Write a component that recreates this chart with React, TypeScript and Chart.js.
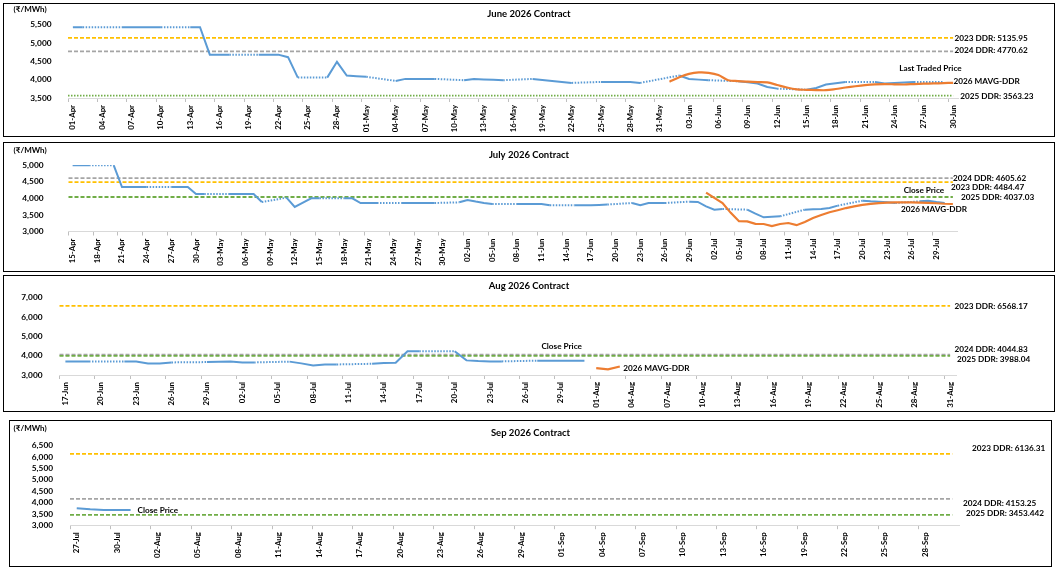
import React, { useEffect, useRef } from "react";
import { Chart, registerables } from "chart.js";

Chart.register(...registerables);

const FONT = "Lato, 'Noto Sans', sans-serif";
const BLUE = "#5B9BD5";
const ORANGE = "#ED7D31";
const DDR_COLOR: Record<string, string> = { "2023": "#FFC000", "2024": "#A5A5A5", "2025": "#70AD47" };

const MONTHS = ["Jan", "Feb", "Mar", "Apr", "May", "Jun", "Jul", "Aug", "Sep", "Oct", "Nov", "Dec"];

// every calendar day between two dates, as "01-Apr"
const dayLabels = (from: string, to: string) => {
  const out: string[] = [];
  const d = new Date(from + "T00:00:00Z");
  const end = new Date(to + "T00:00:00Z");
  while (d <= end) {
    out.push(String(d.getUTCDate()).padStart(2, "0") + "-" + MONTHS[d.getUTCMonth()]);
    d.setUTCDate(d.getUTCDate() + 1);
  }
  return out;
};

type Pt = [string, number];

// ---------------- June 2026 contract ----------------
const juneDays = dayLabels("2026-04-01", "2026-06-30");
const juneLtp: Pt[] = [
  ["01-Apr", 5425], ["02-Apr", 5425], ["06-Apr", 5425], ["07-Apr", 5425], ["08-Apr", 5425],
  ["09-Apr", 5425], ["10-Apr", 5425], ["13-Apr", 5425], ["14-Apr", 5425], ["15-Apr", 4680],
  ["16-Apr", 4680], ["17-Apr", 4680], ["20-Apr", 4680], ["21-Apr", 4680], ["22-Apr", 4680],
  ["23-Apr", 4611], ["24-Apr", 4055], ["27-Apr", 4055], ["28-Apr", 4485], ["29-Apr", 4110],
  ["30-Apr", 4095], ["01-May", 4077], ["04-May", 3965], ["05-May", 4020], ["06-May", 4020],
  ["07-May", 4020], ["08-May", 4020], ["11-May", 3984], ["12-May", 4020], ["13-May", 4005],
  ["14-May", 3995], ["15-May", 3984], ["18-May", 4020], ["19-May", 3990], ["20-May", 3960],
  ["21-May", 3935], ["22-May", 3911], ["25-May", 3938], ["26-May", 3935], ["27-May", 3935],
  ["28-May", 3935], ["29-May", 3911], ["02-Jun", 4113], ["03-Jun", 4020], ["04-Jun", 4000],
  ["05-Jun", 3984], ["08-Jun", 3957], ["09-Jun", 3930], ["10-Jun", 3892], ["11-Jun", 3800],
  ["12-Jun", 3755], ["15-Jun", 3727], ["16-Jun", 3773], ["17-Jun", 3865], ["18-Jun", 3900],
  ["19-Jun", 3938], ["22-Jun", 3938], ["23-Jun", 3892], ["24-Jun", 3910], ["25-Jun", 3925],
  ["26-Jun", 3938], ["29-Jun", 3938],
];
const juneMavg: Pt[] = [
  ["01-Jun", 3945], ["02-Jun", 4065], ["03-Jun", 4155], ["04-Jun", 4195], ["05-Jun", 4185],
  ["06-Jun", 4125], ["07-Jun", 3985], ["08-Jun", 3960], ["09-Jun", 3945], ["10-Jun", 3933],
  ["11-Jun", 3923], ["12-Jun", 3855], ["13-Jun", 3785], ["14-Jun", 3735], ["15-Jun", 3723],
  ["16-Jun", 3715], ["17-Jun", 3712], ["18-Jun", 3745], ["19-Jun", 3785], ["20-Jun", 3820],
  ["21-Jun", 3850], ["22-Jun", 3870], ["23-Jun", 3877], ["24-Jun", 3873], ["25-Jun", 3868],
  ["26-Jun", 3880], ["27-Jun", 3890], ["28-Jun", 3896], ["29-Jun", 3905], ["30-Jun", 3914],
];
const juneDdrYears = ["2023", "2024", "2025"];
const juneDdrValues = [5135.95, 4770.62, 3563.23];

// ---------------- July 2026 contract ----------------
const julyDays = dayLabels("2026-04-15", "2026-07-31");
const julyClose: Pt[] = [
  ["15-Apr", 4990], ["16-Apr", 4990], ["17-Apr", 4990], ["20-Apr", 4990], ["21-Apr", 4337],
  ["22-Apr", 4337], ["23-Apr", 4337], ["24-Apr", 4337], ["27-Apr", 4337], ["28-Apr", 4337],
  ["29-Apr", 4337], ["30-Apr", 4127], ["01-May", 4127], ["04-May", 4127], ["05-May", 4127],
  ["06-May", 4127], ["07-May", 4127], ["08-May", 3887], ["11-May", 4017], ["12-May", 3737],
  ["13-May", 3870], ["14-May", 3997], ["15-May", 3997], ["18-May", 3997], ["19-May", 3997],
  ["20-May", 3857], ["21-May", 3857], ["22-May", 3857], ["25-May", 3857], ["26-May", 3857],
  ["27-May", 3857], ["28-May", 3857], ["29-May", 3857], ["01-Jun", 3877], ["02-Jun", 3947],
  ["03-Jun", 3900], ["04-Jun", 3860], ["05-Jun", 3827], ["08-Jun", 3827], ["09-Jun", 3827],
  ["10-Jun", 3827], ["11-Jun", 3827], ["12-Jun", 3787], ["15-Jun", 3787], ["16-Jun", 3787],
  ["17-Jun", 3790], ["18-Jun", 3800], ["19-Jun", 3810], ["22-Jun", 3857], ["23-Jun", 3787],
  ["24-Jun", 3857], ["25-Jun", 3857], ["26-Jun", 3857], ["29-Jun", 3897], ["30-Jun", 3890],
  ["01-Jul", 3757], ["02-Jul", 3657], ["03-Jul", 3677], ["06-Jul", 3657], ["07-Jul", 3537],
  ["08-Jul", 3427], ["09-Jul", 3447], ["10-Jul", 3457], ["13-Jul", 3657], ["14-Jul", 3667],
  ["15-Jul", 3677], ["16-Jul", 3707], ["17-Jul", 3777], ["20-Jul", 3927], ["21-Jul", 3907],
  ["22-Jul", 3897], ["23-Jul", 3877], ["24-Jul", 3857], ["27-Jul", 3907], ["28-Jul", 3927],
  ["29-Jul", 3887], ["30-Jul", 3857],
];
const julyMavg: Pt[] = [
  ["01-Jul", 4170], ["02-Jul", 4010], ["03-Jul", 3857], ["04-Jul", 3560], ["05-Jul", 3310],
  ["06-Jul", 3305], ["07-Jul", 3230], ["08-Jul", 3225], ["09-Jul", 3160], ["10-Jul", 3225],
  ["11-Jul", 3255], ["12-Jul", 3190], ["13-Jul", 3285], ["14-Jul", 3405], ["15-Jul", 3495],
  ["16-Jul", 3580], ["17-Jul", 3640], ["18-Jul", 3705], ["19-Jul", 3755], ["20-Jul", 3800],
  ["21-Jul", 3830], ["22-Jul", 3855], ["23-Jul", 3868], ["24-Jul", 3877], ["25-Jul", 3880],
  ["26-Jul", 3877], ["27-Jul", 3870], ["28-Jul", 3860], ["29-Jul", 3850], ["30-Jul", 3835],
  ["31-Jul", 3827],
];
const julyDdrYears = ["2024", "2023", "2025"];
const julyDdrValues = [4605.62, 4484.47, 4037.03];

// ---------------- Aug 2026 contract ----------------
const augDays = dayLabels("2026-06-17", "2026-08-31");
const augClose: Pt[] = [
  ["17-Jun", 3702], ["18-Jun", 3702], ["19-Jun", 3702], ["22-Jun", 3702], ["23-Jun", 3702],
  ["24-Jun", 3600], ["25-Jun", 3600], ["26-Jun", 3650], ["29-Jun", 3667], ["30-Jun", 3685],
  ["01-Jul", 3702], ["02-Jul", 3649], ["03-Jul", 3649], ["06-Jul", 3690], ["07-Jul", 3600],
  ["08-Jul", 3491], ["09-Jul", 3544], ["10-Jul", 3544], ["13-Jul", 3579], ["14-Jul", 3614],
  ["15-Jul", 3631], ["16-Jul", 4230], ["17-Jul", 4230], ["20-Jul", 4230], ["21-Jul", 3754],
  ["22-Jul", 3720], ["23-Jul", 3702], ["24-Jul", 3702], ["27-Jul", 3740], ["28-Jul", 3740],
  ["29-Jul", 3740], ["30-Jul", 3740], ["31-Jul", 3740],
];
const augMavg: Pt[] = [["01-Aug", 3350], ["02-Aug", 3290], ["03-Aug", 3440]];
const augDdrYears = ["2023", "2024", "2025"];
const augDdrValues = [6568.17, 4044.83, 3988.04];

// ---------------- Sep 2026 contract ----------------
const sepDays = dayLabels("2026-07-27", "2026-09-30");
const sepClose: Pt[] = [["27-Jul", 3747], ["28-Jul", 3700], ["29-Jul", 3673], ["30-Jul", 3673], ["31-Jul", 3673]];
const sepMavg: Pt[] = [];
const sepDdrYears = ["2023", "2024", "2025"];
const sepDdrValues = [6136.31, 4153.25, 3453.442];

const onDays = (days: string[], pts: Pt[]) => {
  const m = new Map(pts);
  return days.map((d) => (m.has(d) ? (m.get(d) as number) : null));
};

type TextSpot = { text: string; dx: number; dy: number };

type PanelSpec = {
  title: string;
  days: string[];
  close: Pt[];
  mavg: Pt[];
  ddrYears: string[];
  ddrValues: number[];
  yMin: number;
  yMax: number;
  yStep: number;
  box: { left: number; top: number; width: number; height: number };
  plot: { left: number; top: number; right: number; bottom: number };
  yLabelGap: number;
  titleY: number;
  unitY?: number;
  mavgTension: number;
  dottedYear?: string;
  ddrShift: [number, number][];
  closeLabel: TextSpot;
  mavgLabel?: TextSpot;
};

const panels: PanelSpec[] = [
  {
    title: "June 2026 Contract",
    days: juneDays, close: juneLtp, mavg: juneMavg,
    ddrYears: juneDdrYears, ddrValues: juneDdrValues,
    yMin: 3500, yMax: 5500, yStep: 500,
    box: { left: 3, top: 3, width: 1052, height: 134 },
    plot: { left: 68, top: 24.5, right: 958, bottom: 98 },
    yLabelGap: 8.5, titleY: 14.3, unitY: 9.5, mavgTension: 0.3, dottedYear: "2025",
    ddrShift: [[-3.5, 0], [-3.5, -1], [2.3, 0.6]],
    closeLabel: { text: "Last Traded Price", dx: -44, dy: -14 },
    mavgLabel: { text: "2026 MAVG-DDR", dx: 0.5, dy: -1.3 },
  },
  {
    title: "July 2026 Contract",
    days: julyDays, close: julyClose, mavg: julyMavg,
    ddrYears: julyDdrYears, ddrValues: julyDdrValues,
    yMin: 3000, yMax: 5000, yStep: 500,
    box: { left: 3, top: 142, width: 1052, height: 130 },
    plot: { left: 68.5, top: 164.5, right: 957, bottom: 231.5 },
    yLabelGap: 17, titleY: 155.3, unitY: 150.2, mavgTension: 0,
    ddrShift: [[-4, 0], [-6, 5], [4, 0]],
    closeLabel: { text: "Close Price", dx: -41, dy: -12.5 },
    mavgLabel: { text: "2026 MAVG-DDR", dx: -52, dy: 5 },
  },
  {
    title: "Aug 2026 Contract",
    days: augDays, close: augClose, mavg: augMavg,
    ddrYears: augDdrYears, ddrValues: augDdrValues,
    yMin: 3000, yMax: 7000, yStep: 1000,
    box: { left: 3, top: 275, width: 1052, height: 137 },
    plot: { left: 59.5, top: 297.5, right: 956, bottom: 375 },
    yLabelGap: 9, titleY: 286.3, mavgTension: 0,
    ddrShift: [[-1.5, 0], [-1.5, -5], [1, 3]],
    closeLabel: { text: "Close Price", dx: -43, dy: -14 },
    mavgLabel: { text: "2026 MAVG-DDR", dx: 3.5, dy: 1.4 },
  },
  {
    title: "Sep 2026 Contract",
    days: sepDays, close: sepClose, mavg: sepMavg,
    ddrYears: sepDdrYears, ddrValues: sepDdrValues,
    yMin: 3000, yMax: 6500, yStep: 500,
    box: { left: 9, top: 420, width: 1043, height: 147 },
    plot: { left: 70, top: 445.6, right: 959, bottom: 525.2 },
    yLabelGap: 9, titleY: 432.7, unitY: 428.3, mavgTension: 0,
    ddrShift: [[13, -6], [4, 4.5], [7, -1.5]],
    closeLabel: { text: "Close Price", dx: 7, dy: 0 },
  },
];

const lastPoint = (data: (number | null)[]): [number, number] | null => {
  for (let i = data.length - 1; i >= 0; i--) if (data[i] != null) return [i, data[i] as number];
  return null;
};

const Panel = ({ spec }: { spec: PanelSpec }) => {
  const ref = useRef<HTMLCanvasElement>(null);
  const ox = spec.box.left + 1;
  const oy = spec.box.top + 1;
  const cw = spec.box.width - 2;
  const ch = spec.box.height - 2;

  useEffect(() => {
    if (!ref.current) return;
    const closeData = onDays(spec.days, spec.close);
    const mavgData = onDays(spec.days, spec.mavg);

    const decor = {
      id: "decor",
      beforeDatasetsDraw(chart: any) {
        const { ctx, chartArea, scales } = chart;
        const xEnd = scales.x.getPixelForValue(spec.days.length - 1);
        spec.ddrYears.forEach((yr, i) => {
          const y = scales.y.getPixelForValue(spec.ddrValues[i]);
          ctx.save();
          ctx.strokeStyle = DDR_COLOR[yr];
          ctx.lineWidth = 1.8;
          ctx.setLineDash(yr === spec.dottedYear ? [1.5, 1.5] : [4, 2]);
          ctx.beginPath();
          ctx.moveTo(chartArea.left, y);
          ctx.lineTo(xEnd, y);
          ctx.stroke();
          ctx.restore();
        });
      },
      afterDatasetsDraw(chart: any) {
        const { ctx, chartArea, scales } = chart;
        ctx.save();
        ctx.font = `bold 8.2px ${FONT}`;
        ctx.fillStyle = "#000";
        ctx.textBaseline = "middle";
        ctx.textAlign = "left";
        spec.ddrYears.forEach((yr, i) => {
          const [dx, dy] = spec.ddrShift[i];
          const y = scales.y.getPixelForValue(spec.ddrValues[i]);
          ctx.fillText(`${yr} DDR: ${spec.ddrValues[i]}`, chartArea.right + dx, y + dy);
        });
        const put = (lab: TextSpot | undefined, data: (number | null)[]) => {
          const lp = lastPoint(data);
          if (!lab || !lp) return;
          ctx.fillText(lab.text, scales.x.getPixelForValue(lp[0]) + lab.dx, scales.y.getPixelForValue(lp[1]) + lab.dy);
        };
        put(spec.closeLabel, closeData);
        put(spec.mavgLabel, mavgData);
        ctx.restore();
      },
      afterDraw(chart: any) {
        const { ctx } = chart;
        ctx.save();
        ctx.fillStyle = "#000";
        ctx.textBaseline = "middle";
        ctx.font = `bold 9.5px ${FONT}`;
        ctx.textAlign = "center";
        ctx.fillText(spec.title, spec.box.left + spec.box.width / 2 - ox, spec.titleY - oy);
        if (spec.unitY != null) {
          ctx.font = `bold 8px ${FONT}`;
          ctx.textAlign = "left";
          ctx.fillText("(₹/MWh)", 13.6 - ox, spec.unitY - oy);
        }
        ctx.restore();
      },
    };

    const chart = new Chart(ref.current, {
      type: "line",
      data: {
        labels: spec.days,
        datasets: [
          {
            label: "2026 MAVG-DDR",
            data: mavgData,
            borderColor: ORANGE,
            borderWidth: 2.2,
            pointRadius: 0,
            tension: spec.mavgTension,
          },
          {
            label: "Close Price",
            data: closeData,
            borderColor: BLUE,
            borderWidth: 2,
            pointRadius: 0,
            spanGaps: true,
            segment: {
              borderDash: (c: any) => (c.p0.skip || c.p1.skip ? [1.5, 1.5] : undefined),
            },
          },
        ],
      },
      options: {
        animation: false,
        responsive: false,
        maintainAspectRatio: false,
        layout: {
          padding: {
            left: 0,
            bottom: 0,
            top: spec.plot.top - oy,
            right: cw - (spec.plot.right - ox),
          },
        },
        plugins: {
          legend: { display: false },
          tooltip: { enabled: false },
          title: { display: false },
        },
        scales: {
          x: {
            offset: true,
            grid: {
              offset: true,
              drawOnChartArea: false,
              drawTicks: true,
              tickLength: 4,
              tickWidth: 1,
              tickColor: (c: any) => (c.index % 3 === 0 ? "#bfbfbf" : "rgba(0,0,0,0)"),
            },
            border: { color: "#d9d9d9", width: 1 },
            ticks: {
              autoSkip: false,
              maxRotation: 90,
              minRotation: 90,
              padding: 3,
              color: "#000",
              font: { family: FONT, size: 7.8, weight: "bold" },
              callback: (_v: any, i: number) => (i % 3 === 0 ? spec.days[i] : ""),
            },
            afterFit: (s: any) => {
              s.height = ch - (spec.plot.bottom - oy);
            },
          },
          y: {
            min: spec.yMin,
            max: spec.yMax,
            grid: { display: false },
            border: { display: false },
            ticks: {
              stepSize: spec.yStep,
              autoSkip: false,
              padding: spec.yLabelGap,
              color: "#000",
              font: { family: FONT, size: 8.3, weight: "bold" },
              callback: (v: any) => Number(v).toLocaleString("en-US"),
            },
            afterFit: (s: any) => {
              s.width = spec.plot.left - ox;
            },
          },
        },
      },
      plugins: [decor],
    } as any);

    return () => {
      chart.destroy();
    };
  }, []);

  return (
    <div
      style={{
        position: "absolute",
        left: spec.box.left,
        top: spec.box.top,
        width: cw,
        height: ch,
        border: "1px solid #000",
        background: "#fff",
      }}
    >
      <canvas ref={ref} width={cw} height={ch} style={{ display: "block", width: cw, height: ch }} />
    </div>
  );
};

const App = () => (
  <div style={{ position: "absolute", left: 0, top: 0, width: 1060, height: 573, background: "#fff" }}>
    {panels.map((p) => (
      <Panel key={p.title} spec={p} />
    ))}
  </div>
);

export default App;
